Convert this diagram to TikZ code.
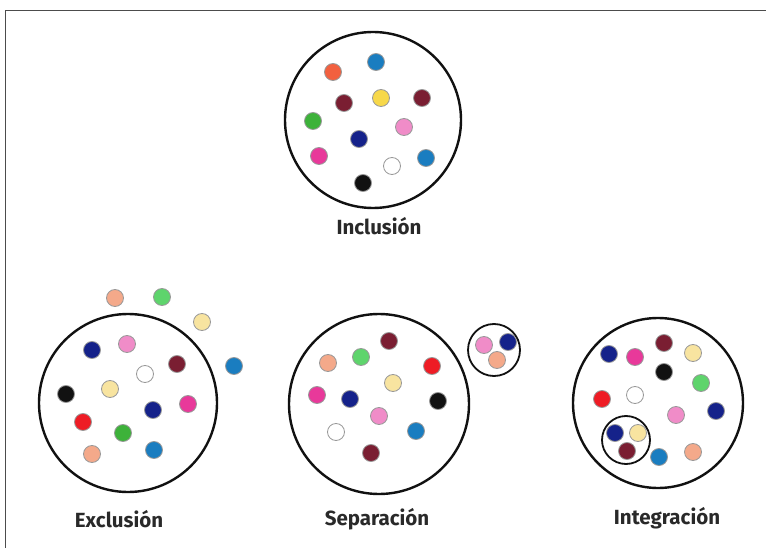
\documentclass[tikz,border=0pt]{standalone}
\usepackage{fontspec}
\newfontfamily\handfont{Fira Sans}
\definecolor{tomato}{HTML}{F2603F}
\definecolor{cerulean}{HTML}{1A7DC0}
\definecolor{maroon}{HTML}{7A1E32}
\definecolor{sun}{HTML}{F7D84A}
\definecolor{leaf}{HTML}{3DB23A}
\definecolor{lightgreen}{HTML}{5ED46C}
\definecolor{rose}{HTML}{F08CC8}
\definecolor{navy}{HTML}{15228A}
\definecolor{magenta}{HTML}{E8399A}
\definecolor{salmon}{HTML}{F4A98A}
\definecolor{cream}{HTML}{F8E4A0}
\definecolor{brightred}{HTML}{EE1C25}
\definecolor{ink}{HTML}{111111}
\begin{document}
\begin{tikzpicture}
        [x=1pt, y=-1pt,
        dot/.style={circle, draw=gray!80, line width=0.8pt, minimum size=17pt, inner sep=0pt},
        group/.style={circle, draw=ink, line width=2.4pt, inner sep=0pt},
        subgroup/.style={circle, draw=ink, line width=1.8pt, inner sep=0pt, minimum size=48pt},
        label/.style={font=\handfont\bfseries\fontsize{20.5}{24}\selectfont, text=ink!90}]

        \useasboundingbox (0,0) rectangle (766,548);
        % frame
        \draw[gray!60!black, line width=0.8pt] (5,548) -- (5,10) -- (766,10);

        % Inclusion
        \node[group, minimum size=176pt] (inc) at (373,120) {};
        \node[dot, fill=tomato] (i1) at (333,72) {};
        \node[dot, fill=cerulean] (i2) at (376,62) {};
        \node[dot, fill=maroon] (i3) at (344,103) {};
        \node[dot, fill=sun] (i4) at (381,98) {};
        \node[dot, fill=maroon] (i5) at (422,98) {};
        \node[dot, fill=leaf] (i6) at (313,121) {};
        \node[dot, fill=rose] (i7) at (404,127) {};
        \node[dot, fill=navy] (i8) at (359,139) {};
        \node[dot, fill=magenta] (i9) at (319,156) {};
        \node[dot, fill=white] (i10) at (392,166) {};
        \node[dot, fill=cerulean] (i11) at (426,158) {};
        \node[dot, fill=ink] (i12) at (363,183) {};
        \node[label] (incl) at (379,226) {Inclusión};

        % Exclusion
        \node[group, minimum size=178pt] (exc) at (128,403) {};
        \node[dot, fill=salmon] (e1) at (115,298) {};
        \node[dot, fill=lightgreen] (e2) at (162,297) {};
        \node[dot, fill=cream] (e3) at (202,322) {};
        \node[dot, fill=cerulean] (e4) at (234,366) {};
        \node[dot, fill=navy] (e5) at (92,350) {};
        \node[dot, fill=rose] (e6) at (127,344) {};
        \node[dot, fill=maroon] (e7) at (177,364) {};
        \node[dot, fill=white] (e8) at (145,374) {};
        \node[dot, fill=cream] (e9) at (110,389) {};
        \node[dot, fill=ink] (e10) at (66,394) {};
        \node[dot, fill=navy] (e11) at (153,410) {};
        \node[dot, fill=magenta] (e12) at (188,404) {};
        \node[dot, fill=brightred] (e13) at (83,422) {};
        \node[dot, fill=leaf] (e14) at (123,433) {};
        \node[dot, fill=cerulean] (e15) at (154,450) {};
        \node[dot, fill=salmon] (e16) at (92,454) {};
        \node[label] (excl) at (119,519) {Exclusión};

        % Separation
        \node[group, minimum size=180pt] (sep) at (379,404) {};
        \node[subgroup, minimum size=52pt] (sepsub) at (494,350) {};
        \node[dot, fill=rose] (s1) at (484,345) {};
        \node[dot, fill=navy] (s2) at (508,342) {};
        \node[dot, fill=salmon] (s3) at (497,360) {};
        \node[dot, fill=maroon] (s4) at (389,341) {};
        \node[dot, fill=lightgreen] (s5) at (361,357) {};
        \node[dot, fill=salmon] (s6) at (328,363) {};
        \node[dot, fill=brightred] (s7) at (432,366) {};
        \node[dot, fill=cream] (s8) at (393,383) {};
        \node[dot, fill=magenta] (s9) at (317,395) {};
        \node[dot, fill=navy] (s10) at (350,399) {};
        \node[dot, fill=ink] (s11) at (438,401) {};
        \node[dot, fill=rose] (s12) at (379,416) {};
        \node[dot, fill=white] (s13) at (336,432) {};
        \node[dot, fill=cerulean] (s14) at (416,431) {};
        \node[dot, fill=maroon] (s15) at (371,453) {};
        \node[label] (sepl) at (377,519) {Separación};

        % Integration
        \node[group, minimum size=170pt] (int) at (658,403) {};
        \node[subgroup] (intsub) at (626,440) {};
        \node[dot, fill=navy] (n1) at (615,433) {};
        \node[dot, fill=cream] (n2) at (638,433) {};
        \node[dot, fill=maroon] (n3) at (627,451) {};
        \node[dot, fill=navy] (n4) at (609,354) {};
        \node[dot, fill=magenta] (n5) at (635,357) {};
        \node[dot, fill=maroon] (n6) at (664,343) {};
        \node[dot, fill=cream] (n7) at (693,353) {};
        \node[dot, fill=ink] (n8) at (664,372) {};
        \node[dot, fill=lightgreen] (n9) at (701,383) {};
        \node[dot, fill=brightred] (n10) at (602,399) {};
        \node[dot, fill=white] (n11) at (635,395) {};
        \node[dot, fill=rose] (n12) at (676,415) {};
        \node[dot, fill=navy] (n13) at (716,411) {};
        \node[dot, fill=cerulean] (n14) at (659,457) {};
        \node[dot, fill=salmon] (n15) at (693,452) {};
        \node[label] (intl) at (667,518) {Integración};

\end{tikzpicture}
\end{document}
